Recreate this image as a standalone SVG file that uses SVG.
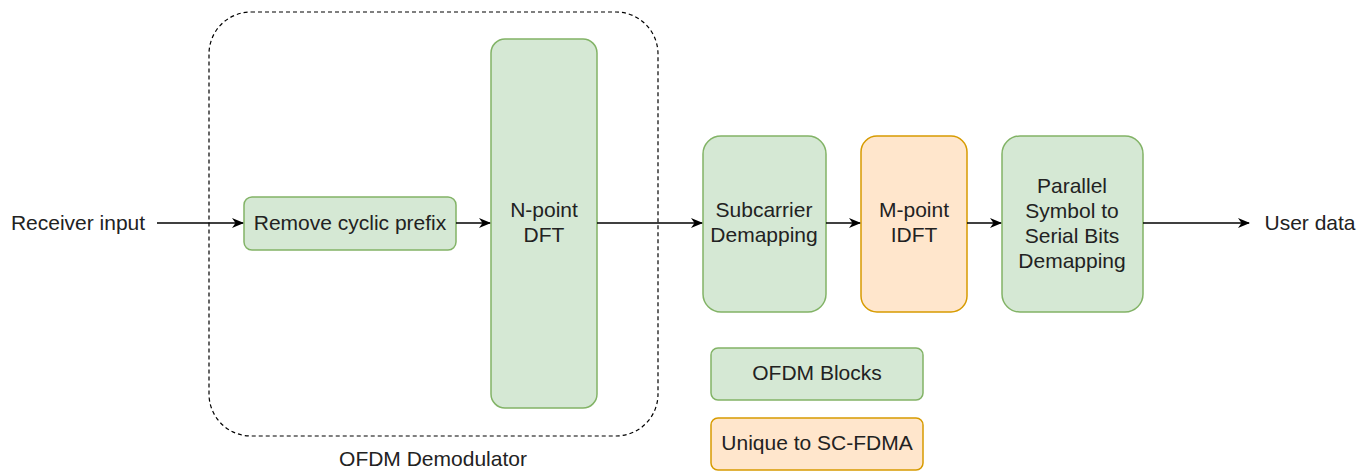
<svg xmlns="http://www.w3.org/2000/svg" width="1369" height="471" viewBox="0 0 1369 471">
  <defs>
    <marker id="arrow" viewBox="0 0 12 12" refX="11" refY="6" markerWidth="12" markerHeight="12" markerUnits="userSpaceOnUse" orient="auto">
      <path d="M0,1 L12,6 L0,11 L3.5,6 Z" fill="#000"/>
    </marker>
    <style>
      .green { fill: #d5e8d4; stroke: #82b366; stroke-width: 1.5; }
      .orange { fill: #ffe6cc; stroke: #d79b00; stroke-width: 1.5; }
      .group { fill: none; stroke: #000; stroke-width: 1.2; stroke-dasharray: 4 3; }
      .lbl { font-family: "Liberation Sans", Arial, sans-serif; font-size: 21px; fill: #222; text-anchor: middle; }
      .edge { stroke: #000; stroke-width: 1.5; fill: none; marker-end: url(#arrow); }
    </style>
  </defs>
  <rect width="1369" height="471" fill="#fff"/>

  <!-- OFDM demodulator container -->
  <g id="ofdm-demodulator">
    <rect class="group" x="209" y="12" width="449" height="424" rx="42"/>
    <text class="lbl" x="433" y="466">OFDM Demodulator</text>
  </g>

  <g id="receiver-input">
    <text class="lbl" x="78" y="230">Receiver input</text>
  </g>

  <g id="remove-cp">
    <rect class="green" x="244" y="197" width="212" height="53" rx="8"/>
    <text class="lbl" x="350" y="230">Remove cyclic prefix</text>
  </g>

  <g id="n-point-dft">
    <rect class="green" x="491" y="39" width="106" height="369" rx="14"/>
    <text class="lbl" x="544" y="217">N-point</text>
    <text class="lbl" x="544" y="242">DFT</text>
  </g>

  <g id="subcarrier-demapping">
    <rect class="green" x="703" y="136" width="123" height="176" rx="18"/>
    <text class="lbl" x="764" y="217">Subcarrier</text>
    <text class="lbl" x="764" y="242">Demapping</text>
  </g>

  <g id="m-point-idft">
    <rect class="orange" x="861" y="136" width="106" height="176" rx="16"/>
    <text class="lbl" x="914" y="217">M-point</text>
    <text class="lbl" x="914" y="242">IDFT</text>
  </g>

  <g id="p2s-demapping">
    <rect class="green" x="1002" y="136" width="141" height="176" rx="18"/>
    <text class="lbl" x="1072" y="193">Parallel</text>
    <text class="lbl" x="1072" y="218">Symbol to</text>
    <text class="lbl" x="1072" y="243">Serial Bits</text>
    <text class="lbl" x="1072" y="268">Demapping</text>
  </g>

  <g id="user-data">
    <text class="lbl" x="1310" y="230">User data</text>
  </g>

  <!-- legend -->
  <g id="legend-ofdm">
    <rect class="green" x="711" y="348" width="212" height="52" rx="7"/>
    <text class="lbl" x="817" y="380">OFDM Blocks</text>
  </g>
  <g id="legend-scfdma">
    <rect class="orange" x="711" y="418" width="212" height="52" rx="7"/>
    <text class="lbl" x="817" y="450">Unique to SC-FDMA</text>
  </g>

  <g id="connectors">
    <path class="edge" d="M157,223 L243,223"/>
    <path class="edge" d="M456,223 L490,223"/>
    <path class="edge" d="M597,223 L702,223"/>
    <path class="edge" d="M826,223 L860,223"/>
    <path class="edge" d="M967,223 L1001,223"/>
    <path class="edge" d="M1143,223 L1249,223"/>
  </g>
</svg>
